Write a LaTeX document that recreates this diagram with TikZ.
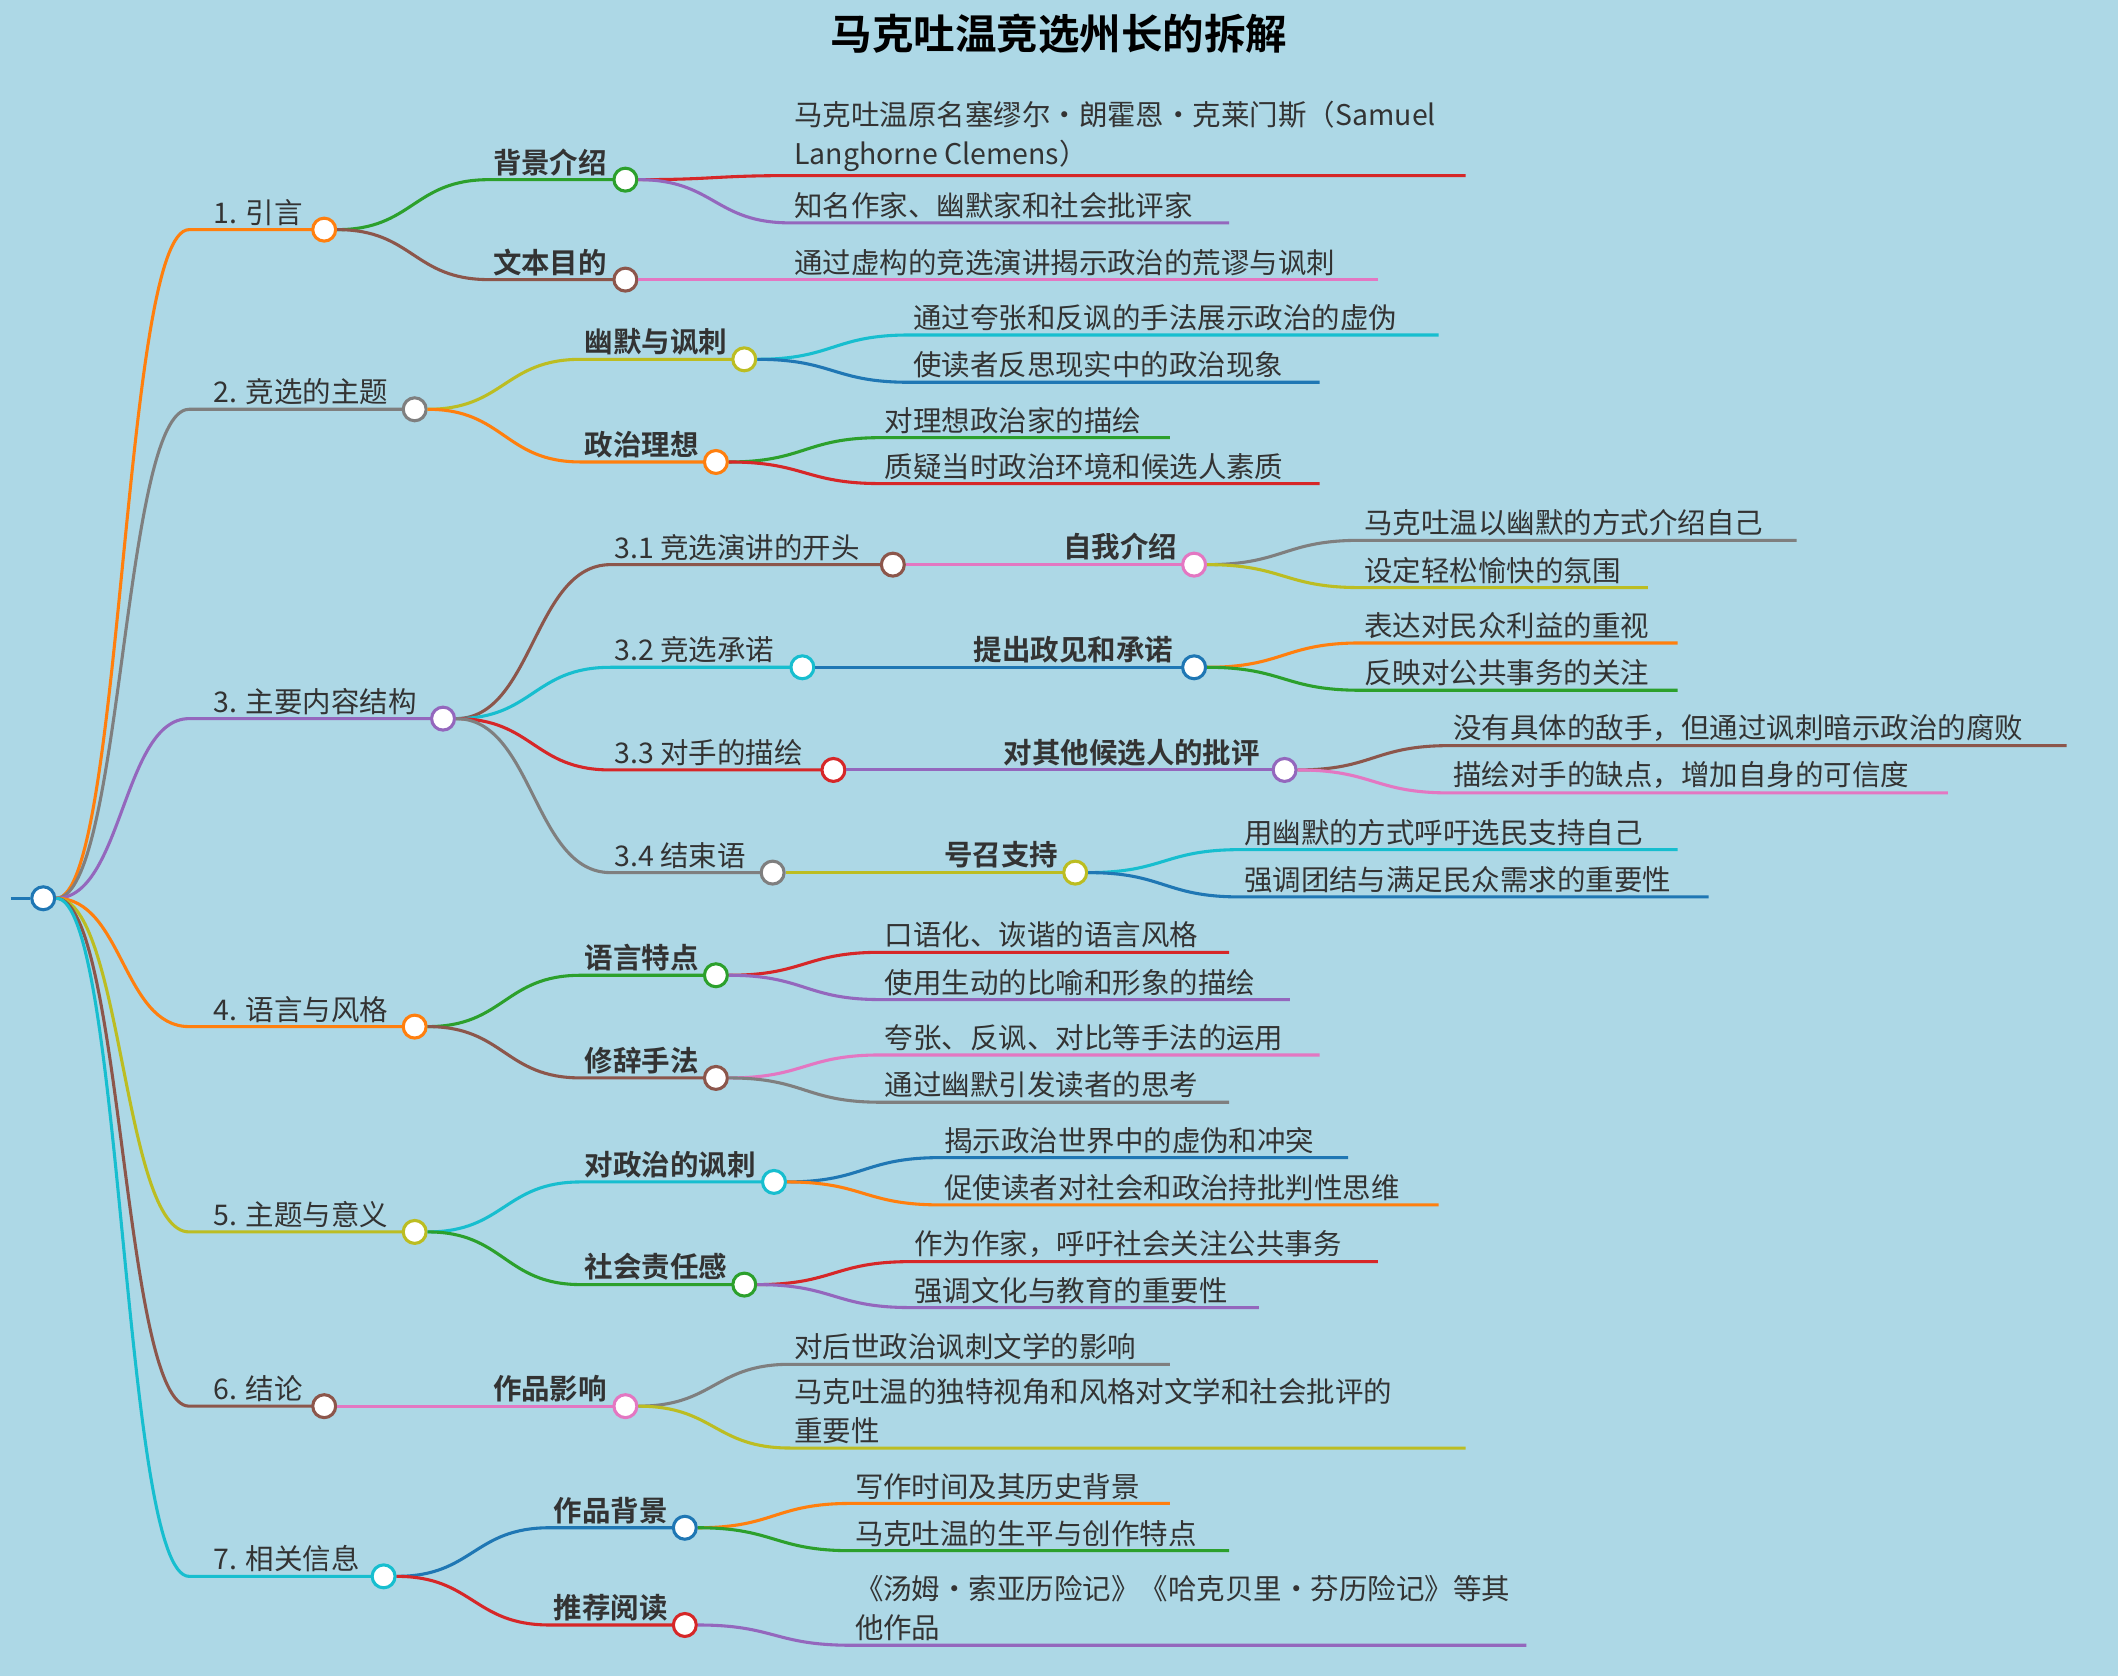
\documentclass[tikz,border=0pt]{standalone}
\usepackage{fontspec}
\setmainfont{Noto Sans CJK SC}[BoldFont={Noto Sans CJK SC Bold}]
\usetikzlibrary{calc}
\definecolor{bgc}{HTML}{ADD8E6}
\definecolor{txc}{HTML}{333333}
\definecolor{cor}{HTML}{FF7F0E}
\definecolor{cgy}{HTML}{7F7F7F}
\definecolor{cpu}{HTML}{9467BD}
\definecolor{col}{HTML}{BCBD22}
\definecolor{cbr}{HTML}{8C564B}
\definecolor{ccy}{HTML}{17BECF}
\definecolor{cgr}{HTML}{2CA02C}
\definecolor{crd}{HTML}{D62728}
\definecolor{cpk}{HTML}{E377C2}
\definecolor{cbl}{HTML}{1F77B4}
\tikzset{
  link/.style={line width=1.3pt},
  dot/.style={circle, fill=white, line width=1.3pt, minimum size=0.34cm, inner sep=0pt},
  lbl/.style={anchor=south west, inner sep=1.5pt, text=txc, align=left,
    font=\fontsize{12}{16.5}\selectfont},
}
% #1 parent, #2 name, #3 colour, #4 start x, #5 y, #6 end x, #7 text, #8 dot?
\newcommand{\twig}[8]{%
  \coordinate (#2s) at (#4,#5);
  \coordinate (#2m) at ($(#1.east)!0.5!(#2s)$);
  \draw[#3, link] (#1.east) .. controls (#2m |- #1.east) and (#2m |- #2s) .. (#2s) -- (#6,#5);
  \ifnum#8=2 \node[lbl, xshift=0.3cm] (#2t) at (#2s) {#7};
  \else \node[lbl] (#2t) at (#2s) {#7}; \fi
  \ifnum#8=0 \coordinate (#2) at (#6,#5);
  \else \node[dot, draw=#3] (#2) at (#6,#5) {}; \fi
}
\begin{document}
\begin{tikzpicture}[x=0.02cm, y=-0.02cm]
  \fill[bgc] (0,0) rectangle (1568,1241);
  \node[font=\fontsize{17.5}{20}\selectfont\bfseries, text=black] (title) at (784,25) {马克吐温竞选州长的拆解};
  \coordinate (rootin) at (8,665);
  \node[dot, draw=cbl] (root) at (32,665) {};
  \draw[cbl, link] (rootin) -- (root);

  % level 1
  \twig{root}{a}{cor}{140}{170}{240}{1. 引言}{2}
  \twig{root}{b}{cgy}{140}{303}{307}{2. 竞选的主题}{2}
  \twig{root}{c}{cpu}{140}{532}{328}{3. 主要内容结构}{2}
  \twig{root}{d}{cor}{140}{760}{307}{4. 语言与风格}{2}
  \twig{root}{e}{col}{140}{912}{307}{5. 主题与意义}{2}
  \twig{root}{f}{cbr}{140}{1041}{240}{6. 结论}{2}
  \twig{root}{g}{ccy}{140}{1167}{284}{7. 相关信息}{2}

  % 1
  \twig{a}{aa}{cgr}{362}{133}{463}{\textbf{背景介绍}}{1}
  \twig{a}{ab}{cbr}{362}{207}{463}{\textbf{文本目的}}{1}
  \twig{aa}{aa1}{crd}{585}{130}{1085}{马克吐温原名塞缪尔·朗霍恩·克莱门斯（Samuel\\Langhorne Clemens）}{0}
  \twig{aa}{aa2}{cpu}{585}{165}{910}{知名作家、幽默家和社会批评家}{0}
  \twig{ab}{ab1}{cpk}{585}{207}{1020}{通过虚构的竞选演讲揭示政治的荒谬与讽刺}{0}

  % 2
  \twig{b}{ba}{col}{430}{266}{551}{\textbf{幽默与讽刺}}{1}
  \twig{b}{bb}{cor}{430}{342}{530}{\textbf{政治理想}}{1}
  \twig{ba}{ba1}{ccy}{673}{248}{1065}{通过夸张和反讽的手法展示政治的虚伪}{0}
  \twig{ba}{ba2}{cbl}{673}{283}{977}{使读者反思现实中的政治现象}{0}
  \twig{bb}{bb1}{cgr}{652}{324}{866}{对理想政治家的描绘}{0}
  \twig{bb}{bb2}{crd}{652}{358}{977}{质疑当时政治环境和候选人素质}{0}

  % 3
  \twig{c}{ca}{cbr}{452}{418}{661}{3.1 竞选演讲的开头}{1}
  \twig{c}{cb}{ccy}{452}{494}{594}{3.2 竞选承诺}{1}
  \twig{c}{cc}{crd}{452}{570}{617}{3.3 对手的描绘}{1}
  \twig{c}{cd}{cgy}{452}{646}{572}{3.4 结束语}{1}
  \twig{ca}{caa}{cpk}{784}{418}{884}{\textbf{自我介绍}}{1}
  \twig{cb}{cba}{cbl}{718}{494}{884}{\textbf{提出政见和承诺}}{1}
  \twig{cc}{cca}{cpu}{740}{570}{951}{\textbf{对其他候选人的批评}}{1}
  \twig{cd}{cda}{col}{696}{646}{796}{\textbf{号召支持}}{1}
  \twig{caa}{caa1}{cgy}{1007}{400}{1330}{马克吐温以幽默的方式介绍自己}{0}
  \twig{caa}{caa2}{col}{1007}{435}{1220}{设定轻松愉快的氛围}{0}
  \twig{cba}{cba1}{cor}{1007}{476}{1242}{表达对民众利益的重视}{0}
  \twig{cba}{cba2}{cgr}{1007}{511}{1242}{反映对公共事务的关注}{0}
  \twig{cca}{cca1}{cbr}{1073}{552}{1530}{没有具体的敌手，但通过讽刺暗示政治的腐败}{0}
  \twig{cca}{cca2}{cpk}{1073}{587}{1442}{描绘对手的缺点，增加自身的可信度}{0}
  \twig{cda}{cda1}{ccy}{918}{629}{1242}{用幽默的方式呼吁选民支持自己}{0}
  \twig{cda}{cda2}{cbl}{918}{664}{1265}{强调团结与满足民众需求的重要性}{0}

  % 4
  \twig{d}{da}{cgr}{430}{722}{530}{\textbf{语言特点}}{1}
  \twig{d}{db}{cbr}{430}{798}{530}{\textbf{修辞手法}}{1}
  \twig{da}{da1}{crd}{652}{705}{910}{口语化、诙谐的语言风格}{0}
  \twig{da}{da2}{cpu}{652}{740}{955}{使用生动的比喻和形象的描绘}{0}
  \twig{db}{db1}{cpk}{652}{781}{977}{夸张、反讽、对比等手法的运用}{0}
  \twig{db}{db2}{cgy}{652}{816}{910}{通过幽默引发读者的思考}{0}

  % 5
  \twig{e}{ea}{ccy}{430}{875}{573}{\textbf{对政治的讽刺}}{1}
  \twig{e}{eb}{cgr}{430}{951}{551}{\textbf{社会责任感}}{1}
  \twig{ea}{ea1}{cbl}{696}{857}{998}{揭示政治世界中的虚伪和冲突}{0}
  \twig{ea}{ea2}{cor}{696}{892}{1065}{促使读者对社会和政治持批判性思维}{0}
  \twig{eb}{eb1}{crd}{674}{934}{1020}{作为作家，呼吁社会关注公共事务}{0}
  \twig{eb}{eb2}{cpu}{674}{968}{932}{强调文化与教育的重要性}{0}

  % 6
  \twig{f}{fa}{cpk}{362}{1041}{463}{\textbf{作品影响}}{1}
  \twig{fa}{fa1}{cgy}{585}{1010}{866}{对后世政治讽刺文学的影响}{0}
  \twig{fa}{fa2}{col}{585}{1072}{1085}{马克吐温的独特视角和风格对文学和社会批评的\\重要性}{0}

  % 7
  \twig{g}{ga}{cbl}{407}{1131}{507}{\textbf{作品背景}}{1}
  \twig{g}{gb}{crd}{407}{1203}{507}{\textbf{推荐阅读}}{1}
  \twig{ga}{ga1}{cor}{630}{1113}{866}{写作时间及其历史背景}{0}
  \twig{ga}{ga2}{cgr}{630}{1148}{910}{马克吐温的生平与创作特点}{0}
  \twig{gb}{gb1}{cpu}{630}{1218}{1130}{《汤姆·索亚历险记》《哈克贝里·芬历险记》等其\\他作品}{0}
\end{tikzpicture}
\end{document}
